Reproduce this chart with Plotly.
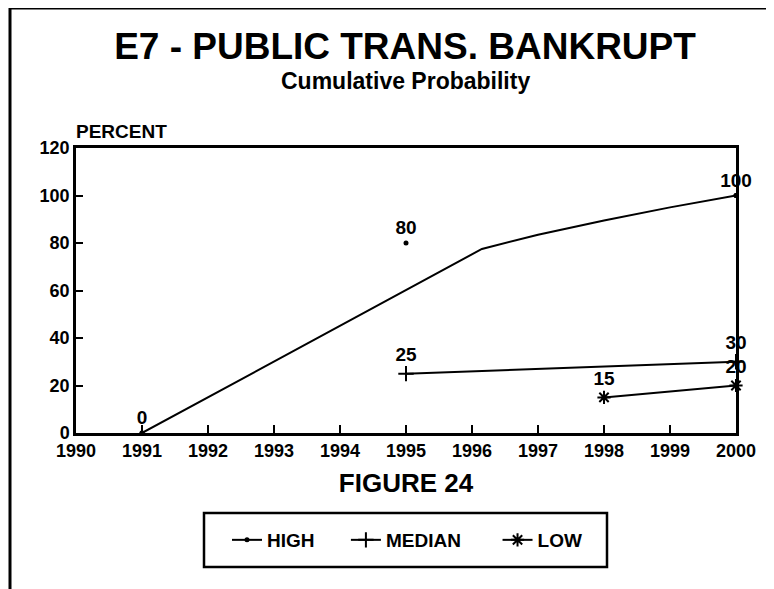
import plotly.graph_objects as go

years = list(range(1990, 2001))
year_labels = [str(y) for y in years]

# HIGH curve as drawn, plus the three labelled estimates
high_curve_years = [1991, 1992, 1993, 1994, 1995, 1996.15, 1997, 1998, 1999, 2000]
high_curve_vals = [0, 15, 30, 45, 60, 77.5, 83.5, 89.5, 95, 100]
high_years = [1991, 1995, 2000]
high_vals = [0, 80, 100]

median_years = [1995, 2000]
median_vals = [25, 30]

low_years = [1998, 2000]
low_vals = [15, 20]

FONT = "Liberation Sans, Arial, sans-serif"
OFF = 8  # the page body keeps its default 8px margin
W, H = 774 - OFF, 589 - OFF
L, R, T = 76 - OFF, 38, 148 - OFF
B = H - (433 - OFF)
PW, PH = W - L - R, H - T - B


# screen pixel -> paper coordinate
def px(x):
    return (x - OFF - L) / PW


def py(y):
    return (H - B - (y - OFF)) / PH


NB = "\u00a0"
label_font = dict(family=FONT, size=19, color="black", weight="bold")
curve_colors = ["black"] + ["rgba(0,0,0,0)"] * (len(high_curve_years) - 2) + ["black"]

fig = go.Figure()

fig.add_trace(go.Scatter(
    x=high_curve_years, y=high_curve_vals, name="HIGH" + NB * 5,
    mode="lines+markers", line=dict(color="black", width=2),
    marker=dict(symbol="circle", size=5, color=curve_colors),
    legendgroup="high", hoverinfo="skip"))
fig.add_trace(go.Scatter(
    x=high_years, y=high_vals, name="HIGH", mode="markers+text",
    marker=dict(symbol="circle", size=5, color="black"),
    text=[str(v) for v in high_vals], textposition="top center",
    textfont=label_font, legendgroup="high", showlegend=False, cliponaxis=False))
fig.add_trace(go.Scatter(
    x=median_years, y=median_vals, name="MEDIAN" + NB * 6,
    mode="lines+markers+text", line=dict(color="black", width=2),
    marker=dict(symbol="cross-thin", size=11, line=dict(color="black", width=2)),
    text=[str(v) for v in median_vals], textposition="top center",
    textfont=label_font, cliponaxis=False))
fig.add_trace(go.Scatter(
    x=low_years, y=low_vals, name="LOW",
    mode="lines+markers+text", line=dict(color="black", width=2),
    marker=dict(symbol="asterisk", size=11, line=dict(color="black", width=2)),
    text=[str(v) for v in low_vals], textposition="top center",
    textfont=label_font, cliponaxis=False))

axis_font = dict(family=FONT, size=18, color="black", weight="bold")

fig.update_xaxes(
    range=[1990, 2000], tickvals=years, ticktext=year_labels,
    ticks="inside", ticklen=8, tickwidth=2, tickcolor="black",
    showline=True, linewidth=2.5, linecolor="black", mirror=True,
    showgrid=False, zeroline=False, tickfont=axis_font,
    title=dict(text="FIGURE 24", standoff=14,
               font=dict(family=FONT, size=26, color="black", weight="bold")))
fig.update_yaxes(
    range=[0, 120], dtick=20,
    ticks="inside", ticklen=7, tickwidth=2, tickcolor="black",
    showline=True, linewidth=2.5, linecolor="black", mirror=True,
    showgrid=False, zeroline=False, tickfont=axis_font)

fig.update_layout(
    width=W, height=H,
    margin=dict(l=L, r=R, t=T, b=B),
    paper_bgcolor="white", plot_bgcolor="white",
    font=dict(family=FONT, color="black"),
    title=dict(text="E7 - PUBLIC TRANS. BANKRUPT", x=(405 - OFF) / W, xanchor="center",
               y=1 - (46 - OFF) / H, yanchor="middle",
               font=dict(family=FONT, size=37, color="black", weight="bold")),
    showlegend=True,
    legend=dict(orientation="h", x=px(227), xanchor="left", y=py(540), yanchor="middle",
                font=dict(family=FONT, size=19, color="black", weight="bold"),
                bgcolor="rgba(0,0,0,0)", borderwidth=0),
    annotations=[
        dict(text="Cumulative Probability", x=px(405), y=py(81), xref="paper", yref="paper",
             xanchor="center", yanchor="middle", showarrow=False,
             font=dict(family=FONT, size=23, color="black", weight="bold")),
        dict(text="PERCENT", x=px(74), y=py(131), xref="paper", yref="paper",
             xanchor="left", yanchor="middle", showarrow=False,
             font=dict(family=FONT, size=19, color="black", weight="bold")),
    ],
    shapes=[
        dict(type="rect", xref="paper", yref="paper", x0=px(204), x1=px(607),
             y0=py(567), y1=py(513), line=dict(color="black", width=2.5)),
        dict(type="line", xref="paper", yref="paper", x0=px(9), x1=px(774),
             y0=py(8), y1=py(8), line=dict(color="black", width=3)),
        dict(type="line", xref="paper", yref="paper", x0=px(10), x1=px(10),
             y0=py(8), y1=py(589), line=dict(color="black", width=3)),
    ],
)

fig.write_html("out.html")
